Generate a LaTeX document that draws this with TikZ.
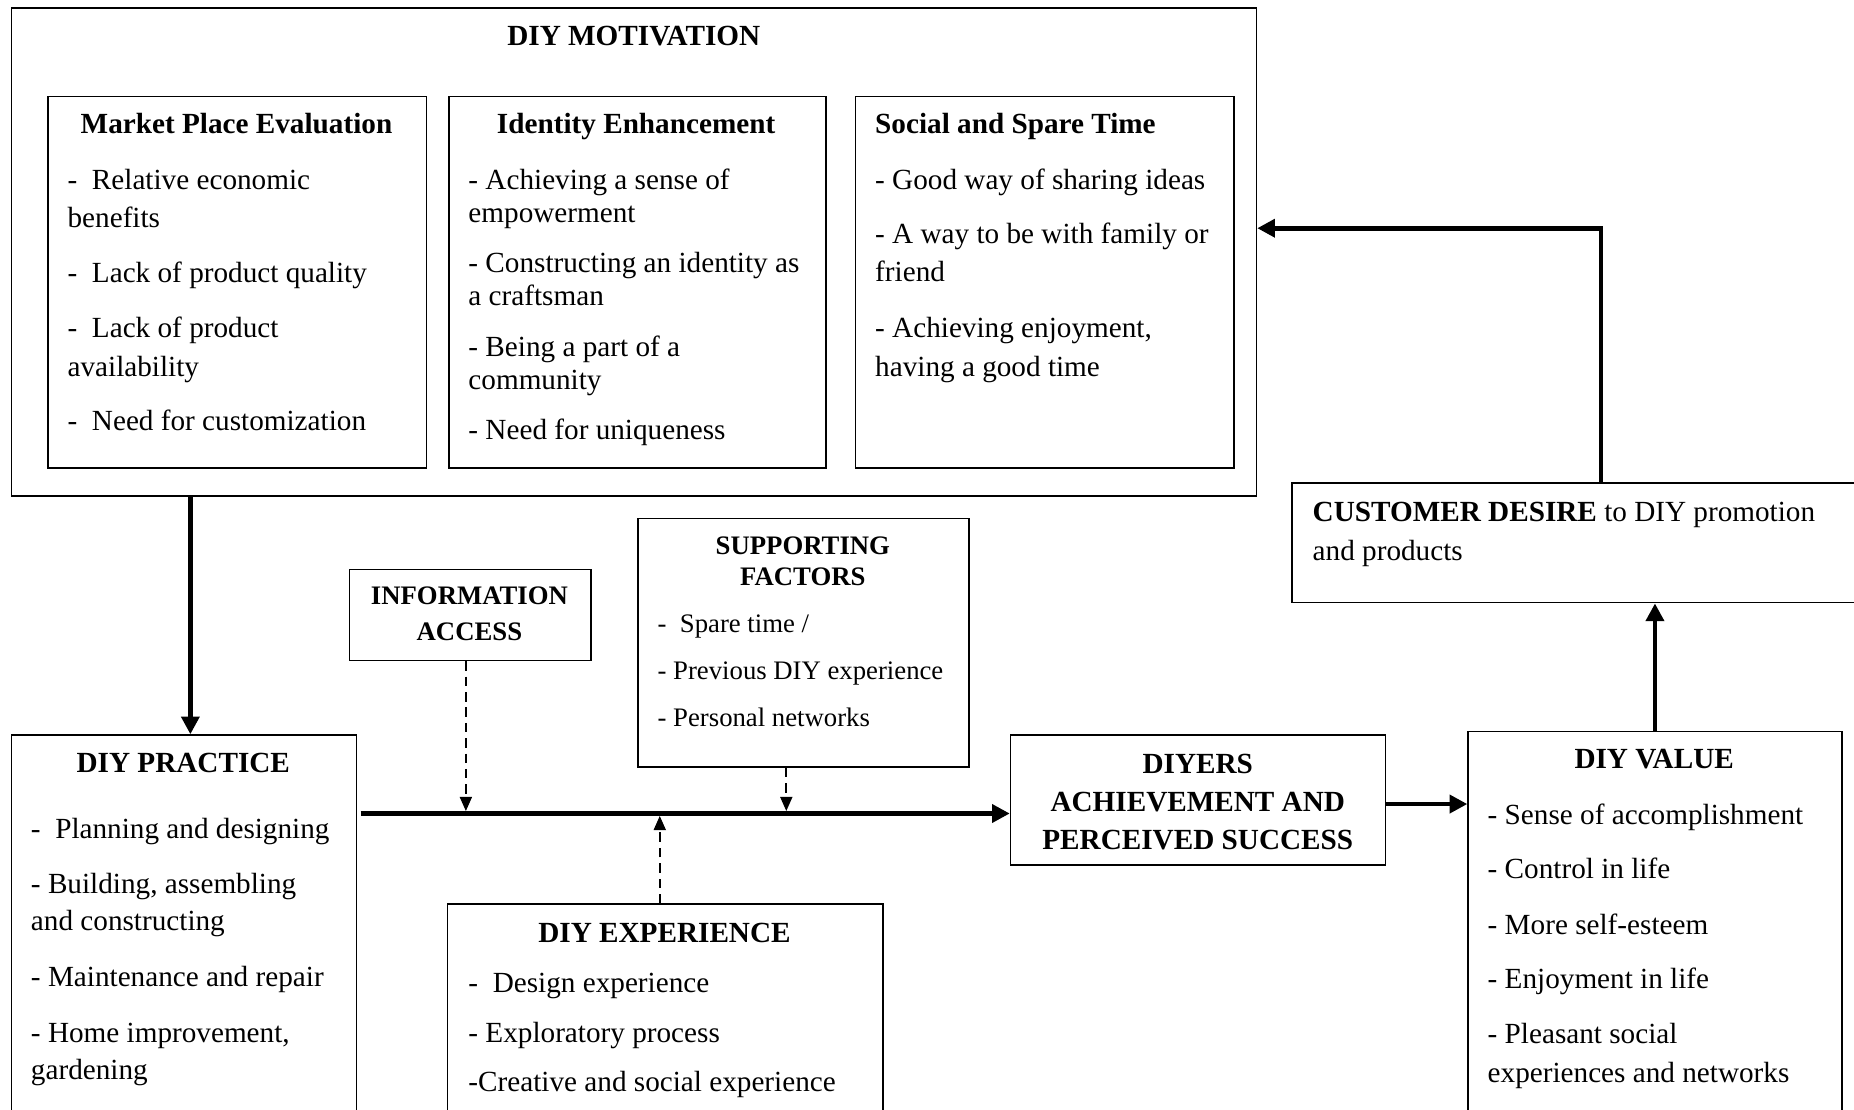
\documentclass[tikz,border=0pt]{standalone}
\usepackage{fontspec}
\setmainfont{Liberation Serif}
\usetikzlibrary{arrows.meta,calc}

\begin{document}
\begin{tikzpicture}[x=1pt,y=-1pt,
  box/.style={draw, line width=1.3pt, inner sep=0pt, anchor=north west},
  txtbase/.style={inner sep=0pt, yshift=-6pt},
  txt/.style={txtbase, anchor=mid west, font=\fontsize{24.7}{30}\selectfont},
  stxt/.style={txtbase, anchor=mid west, font=\fontsize{22.6}{28}\selectfont},
  hd/.style={txtbase, anchor=mid, font=\fontsize{24.7}{30}\selectfont\bfseries},
  shd/.style={txtbase, anchor=mid, font=\fontsize{22.6}{28}\selectfont\bfseries},
  flow/.style={line width=4pt, -{Triangle[length=15pt,width=15pt]}},
  dflow/.style={line width=1.9pt, dash pattern=on 8pt off 5pt, -{Triangle[length=12pt,width=10pt]}},
]
\useasboundingbox (0,0) rectangle (1568,938);
\clip (0,0) rectangle (1568,938);

% ---------- boxes ----------
\node[box, minimum width=1053pt, minimum height=413pt] (mot) at (9,6) {};
\node[box, minimum width=320pt, minimum height=314pt] (mpe) at (40,81) {};
\node[box, minimum width=319pt, minimum height=314pt] (ide) at (379,81) {};
\node[box, minimum width=320pt, minimum height=314pt] (soc) at (723,81) {};
\node[box, minimum width=520pt, minimum height=101pt] (cust) at (1092,408) {};
\node[box, minimum width=204pt, minimum height=77pt] (info) at (295,481) {};
\node[box, minimum width=280pt, minimum height=210pt] (sup) at (539,438) {};
\node[box, minimum width=292pt, minimum height=360pt] (prac) at (9,621) {};
\node[box, minimum width=368pt, minimum height=250pt] (exp) at (378,764) {};
\node[box, minimum width=317pt, minimum height=110pt] (diy) at (854,621) {};
\node[box, minimum width=316pt, minimum height=400pt] (val) at (1241,618) {};

% ---------- DIY motivation ----------
\node[hd] (motT) at (536,30) {DIY MOTIVATION};

\node[hd] (mpeT) at (200,105) {Market Place Evaluation};
\foreach \s/\y [count=\i] in {{-\hspace{0.5em}Relative economic}/152, benefits/184,
    {-\hspace{0.5em}Lack of product quality}/231, {-\hspace{0.5em}Lack of product}/277,
    availability/310, {-\hspace{0.5em}Need for customization}/356}
  \node[txt] (mpe\i) at (57,\y) {\s};

\node[hd] (ideT) at (538,105) {Identity Enhancement};
\foreach \s/\y [count=\i] in {{- Achieving a sense of}/152, empowerment/180,
    {- Constructing an identity as}/222, {a craftsman}/250,
    {- Being a part of a}/293, community/321, {- Need for uniqueness}/363}
  \node[txt] (ide\i) at (396,\y) {\s};

\node[hd, anchor=mid west] (socT) at (740,105) {Social and Spare Time};
\foreach \s/\y [count=\i] in {{- Good way of sharing ideas}/152,
    {- A way to be with family or}/198, friend/230,
    {- Achieving enjoyment,}/277, {having a good time}/310}
  \node[txt] (soc\i) at (740,\y) {\s};

% ---------- customer desire ----------
\node[txt] (cust1) at (1110,433) {\textbf{CUSTOMER DESIRE} to DIY promotion};
\node[txt] (cust2) at (1110,466) {and products};

% ---------- information access ----------
\node[shd] (info1) at (397,503) {INFORMATION};
\node[shd] (info2) at (397,533) {ACCESS};

% ---------- supporting factors ----------
\node[shd] (supT1) at (679,461) {SUPPORTING};
\node[shd] (supT2) at (679,487) {FACTORS};
\foreach \s/\y [count=\i] in {{-\hspace{0.5em}Spare time /}/527,
    {- Previous DIY experience}/566, {- Personal networks}/606}
  \node[stxt] (sup\i) at (556,\y) {\s};

% ---------- DIY practice ----------
\node[hd] (pracT) at (155,645) {DIY PRACTICE};
\foreach \s/\y [count=\i] in {{-\hspace{0.5em}Planning and designing}/701,
    {- Building, assembling}/747, {and constructing}/779,
    {- Maintenance and repair}/826, {- Home improvement,}/873, gardening/905}
  \node[txt] (prac\i) at (26,\y) {\s};

% ---------- DIY experience ----------
\node[hd] (expT) at (562,789) {DIY EXPERIENCE};
\foreach \s/\y [count=\i] in {{-\hspace{0.5em}Design experience}/831,
    {- Exploratory process}/873, {-Creative and social experience}/915}
  \node[txt] (exp\i) at (396,\y) {\s};

% ---------- achievement ----------
\node[hd] (diy1) at (1013,646) {DIYERS};
\node[hd] (diy2) at (1013,678) {ACHIEVEMENT AND};
\node[hd] (diy3) at (1013,710) {PERCEIVED SUCCESS};

% ---------- DIY value ----------
\node[hd] (valT) at (1399,642) {DIY VALUE};
\foreach \s/\y [count=\i] in {{- Sense of accomplishment}/689,
    {- Control in life}/735, {- More self-esteem}/782, {- Enjoyment in life}/828,
    {- Pleasant social}/874, {experiences and networks}/907}
  \node[txt] (val\i) at (1258,\y) {\s};

% ---------- connectors ----------
\coordinate (pm) at (161,0);
\draw[flow] (mot.south -| pm) -- (prac.north -| pm);

\coordinate (f0) at (305,688);
\draw[flow] (f0) -- (f0 -| diy.west);

\coordinate (ia) at (394,0);
\draw[dflow, shorten >=2pt] (info.south -| ia) -- (f0 -| ia);
\coordinate (sf) at (665,0);
\draw[dflow, shorten >=2pt] (sup.south -| sf) -- (f0 -| sf);
\coordinate (ex) at (558,0);
\draw[dflow, shorten >=2pt] (exp.north -| ex) -- (f0 -| ex);

\coordinate (dv) at (0,680);
\draw[flow] (diy.east |- dv) -- (val.west |- dv);
\draw[flow] (val.north) -- (val.north |- cust.south);

\coordinate (cm) at (1354,193);
\draw[flow] (cust.north -| cm) |- (mot.east |- cm);
\end{tikzpicture}
\end{document}
